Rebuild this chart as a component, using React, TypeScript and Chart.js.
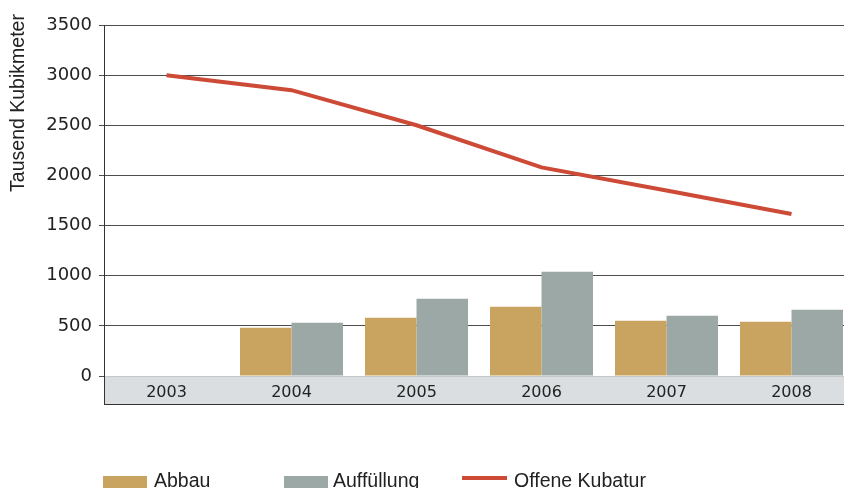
import React, { useEffect, useRef } from 'react';
import { Chart, registerables } from 'chart.js';

Chart.register(...registerables);

const categories = ['2003', '2004', '2005', '2006', '2007', '2008'];
const abbau: (number | null)[] = [null, 480, 580, 690, 550, 540];
const auffuellung: (number | null)[] = [null, 530, 770, 1040, 600, 660];
const offeneKubatur = [3000, 2850, 2500, 2080, 1850, 1615];
const yMin = 0;
const yMax = 3500;
const yStep = 500;
const yTitle = 'Tausend Kubikmeter';
const legendLabels = ['Abbau', 'Auffüllung', 'Offene Kubatur'];

const COL_ABBAU = '#c9a461';
const COL_AUFF = '#9ca8a5';
const COL_LINE = '#cd4a36';
const COL_BAND = '#dadee1';
const TEXT = '#222222';
const TEXT_FONT = '"Liberation Sans", Arial, sans-serif';
const NUM_FONT = '"DejaVu Sans", sans-serif';

const decorPlugin = {
  id: 'decor',
  beforeDraw(chart: any) {
    const { ctx, chartArea } = chart;
    ctx.save();
    ctx.fillStyle = COL_BAND;
    ctx.fillRect(chartArea.left, chartArea.bottom, chart.width - chartArea.left, 28);
    ctx.restore();
  },
  afterDraw(chart: any) {
    const { ctx, chartArea } = chart;
    ctx.save();
    // axis frame
    ctx.strokeStyle = '#333333';
    ctx.lineWidth = 1;
    ctx.beginPath();
    ctx.moveTo(chartArea.left + 0.5, chartArea.top);
    ctx.lineTo(chartArea.left + 0.5, chartArea.bottom + 28.5);
    ctx.moveTo(chartArea.left, chartArea.bottom + 28.5);
    ctx.lineTo(chart.width, chartArea.bottom + 28.5);
    ctx.stroke();

    // y title
    ctx.save();
    ctx.translate(24, 103);
    ctx.rotate(-Math.PI / 2);
    ctx.fillStyle = TEXT;
    ctx.font = `19.5px ${TEXT_FONT}`;
    ctx.textAlign = 'center';
    ctx.textBaseline = 'alphabetic';
    ctx.fillText(yTitle, 0, 0);
    ctx.restore();

    // legend
    ctx.font = `19.5px ${TEXT_FONT}`;
    ctx.textAlign = 'left';
    ctx.textBaseline = 'alphabetic';
    ctx.fillStyle = COL_ABBAU;
    ctx.fillRect(103, 476, 44, 14);
    ctx.fillStyle = TEXT;
    ctx.fillText(legendLabels[0], 154, 487);

    ctx.fillStyle = COL_AUFF;
    ctx.fillRect(284, 476, 44, 14);
    ctx.fillStyle = TEXT;
    ctx.fillText(legendLabels[1], 333, 487);

    ctx.strokeStyle = COL_LINE;
    ctx.lineWidth = 4;
    ctx.beginPath();
    ctx.moveTo(462, 478);
    ctx.lineTo(507, 478);
    ctx.stroke();
    ctx.fillStyle = TEXT;
    ctx.fillText(legendLabels[2], 514, 487);
    ctx.restore();
  },
};

export default function App() {
  const canvasRef = useRef<HTMLCanvasElement | null>(null);

  useEffect(() => {
    document.body.style.margin = '0';
    const canvas = canvasRef.current;
    if (!canvas) return;
    const chart = new Chart(canvas, {
      type: 'bar',
      data: {
        labels: categories,
        datasets: [
          {
            type: 'line',
            label: legendLabels[2],
            data: offeneKubatur,
            borderColor: COL_LINE,
            backgroundColor: COL_LINE,
            borderWidth: 4,
            pointRadius: 0,
            tension: 0,
            order: 0,
          } as any,
          {
            type: 'bar',
            label: legendLabels[0],
            data: abbau,
            backgroundColor: COL_ABBAU,
            borderWidth: 0,
            categoryPercentage: 0.824,
            barPercentage: 1,
            order: 1,
          },
          {
            type: 'bar',
            label: legendLabels[1],
            data: auffuellung,
            backgroundColor: COL_AUFF,
            borderWidth: 0,
            categoryPercentage: 0.824,
            barPercentage: 1,
            order: 1,
          },
        ],
      },
      options: {
        responsive: false,
        animation: false,
        devicePixelRatio: 1,
        layout: { padding: { left: 0, top: 25, right: 6, bottom: 84 } },
        plugins: {
          legend: { display: false },
          tooltip: { enabled: false },
        },
        scales: {
          x: {
            offset: true,
            grid: { display: false, drawTicks: false },
            border: { display: false },
            ticks: {
              color: TEXT,
              font: { family: NUM_FONT, size: 16 },
              padding: 7,
              maxRotation: 0,
            },
            afterFit: (s: any) => {
              s.height = 28;
            },
          },
          y: {
            min: yMin,
            max: yMax,
            border: { display: false },
            grid: {
              color: (c: any) => (c.tick && c.tick.value === 0 ? '#c8c8c8' : '#4d4d4d'),
              tickColor: '#4d4d4d',
              tickLength: 5,
              lineWidth: 1,
            },
            ticks: {
              stepSize: yStep,
              color: TEXT,
              font: { family: NUM_FONT, size: 18 },
              padding: 7,
              callback: (v: any) => String(v),
            },
            afterFit: (s: any) => {
              s.width = 104;
            },
          },
        },
      },
      plugins: [decorPlugin],
    });
    return () => chart.destroy();
  }, []);

  return (
    <div style={{ width: 844, height: 488, overflow: 'hidden', position: 'relative' }}>
      <canvas ref={canvasRef} width={860} height={488} style={{ display: 'block' }} />
    </div>
  );
}
